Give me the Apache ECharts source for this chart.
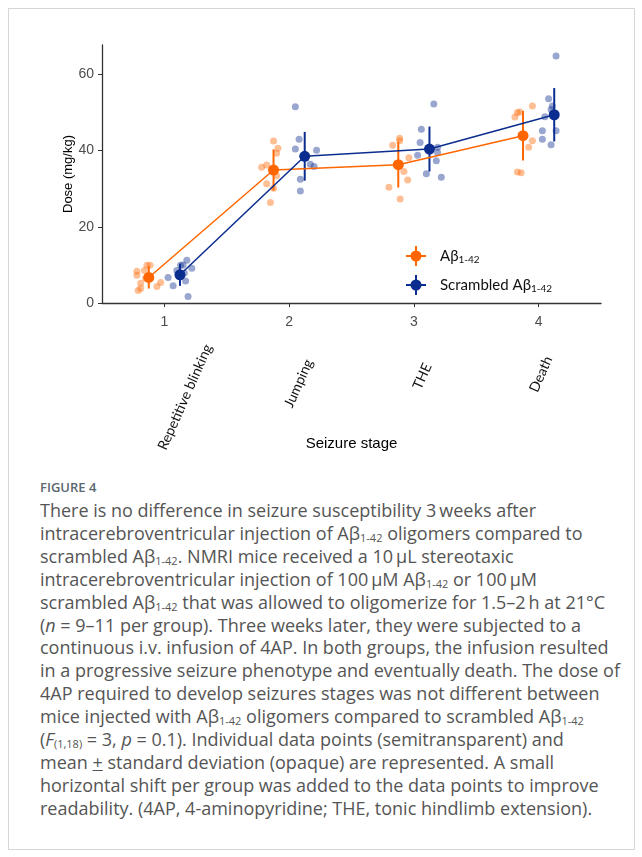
<!DOCTYPE html>
<html>
<head>
<meta charset="utf-8">
<script src="https://cdn.jsdelivr.net/npm/echarts@6/dist/echarts.min.js"></script>
<style>
    body { margin: 0; background: #fff; }
    #frame { position: absolute; left: 8px; top: 8px; width: 625px; height: 840px; border: 1px solid #d6d6d6; }
    #main { position: absolute; left: 0; top: 0; width: 642px; height: 470px; }
    #cap { position: absolute; left: 40px; top: 478px; width: 595px; white-space: nowrap; }
    .fig { font-family: 'Open Sans', sans-serif; font-size: 13px; font-weight: 600; color: #5a6670; line-height: 18px; }
    .txt { font-family: 'Open Sans', sans-serif; font-size: 18px; color: #555; line-height: 22.9px; margin-top: 3px; }
    .txt sub { font-size: 11px; vertical-align: -2px; line-height: 0; }
</style>
</head>
<body>
<div id="frame"></div>
<div id="main"></div>
<div id="cap">
    <div class="fig">FIGURE 4</div>
    <div class="txt">There is no difference in seizure susceptibility 3&#8201;weeks after<br>
intracerebroventricular injection of Aβ<sub>1-42</sub> oligomers compared to<br>
scrambled Aβ<sub>1-42</sub>. NMRI mice received a 10&#8201;μL stereotaxic<br>
intracerebroventricular injection of 100&#8201;μM Aβ<sub>1-42</sub> or 100&#8201;μM<br>
scrambled Aβ<sub>1-42</sub> that was allowed to oligomerize for 1.5–2&#8201;h at 21°C<br>
(<i>n</i> = 9–11 per group). Three weeks later, they were subjected to a<br>
continuous i.v. infusion of 4AP. In both groups, the infusion resulted<br>
in a progressive seizure phenotype and eventually death. The dose of<br>
4AP required to develop seizures stages was not different between<br>
mice injected with Aβ<sub>1-42</sub> oligomers compared to scrambled Aβ<sub>1-42</sub><br>
(<i>F</i><sub>(1,18)</sub> = 3, <i>p</i> = 0.1). Individual data points (semitransparent) and<br>
mean <u>+</u> standard deviation (opaque) are represented. A small<br>
horizontal shift per group was added to the data points to improve<br>
readability. (4AP, 4-aminopyridine; THE, tonic hindlimb extension).</div>
</div>
<script>
// seizure stages
var stages = [1, 2, 3, 4];
var stageNames = ['Repetitive blinking', 'Jumping', 'THE', 'Death'];
var yTicks = [0, 20, 40, 60];

// group means and sd (mg/kg)
var abMean = [6.7, 34.9, 36.3, 43.9];
var abSd = [2.9, 5.4, 6.0, 6.5];
var scrMean = [7.4, 38.5, 40.4, 49.4];
var scrSd = [2.9, 6.4, 5.9, 7.0];

// individual animals [jittered stage, dose]
var abPoints = [
    [0.86, 9.9], [0.885, 9.9], [0.84, 8.5], [0.78, 8.3], [0.78, 7.3], [0.85, 6.5],
    [0.81, 5.2], [0.97, 5.4], [0.94, 4.3], [0.81, 3.8], [0.79, 3.3],
    [1.875, 42.5], [1.91, 40.6], [1.90, 39.3], [1.78, 35.6], [1.82, 36.2], [1.90, 33.4],
    [1.82, 31.3], [1.875, 30.1], [1.85, 26.4],
    [2.886, 43.2], [2.886, 42.6], [2.83, 41.4], [2.96, 38.1], [2.92, 34.5], [2.95, 32.3],
    [2.80, 30.4], [2.89, 27.3],
    [3.81, 48.8], [3.83, 50.0], [3.85, 50.1], [3.95, 51.7], [3.95, 42.6], [3.92, 40.9],
    [3.83, 34.4], [3.86, 34.2]
];
var scrPoints = [
    [1.03, 6.7], [1.07, 4.5], [1.10, 8.5], [1.15, 10.0], [1.18, 11.2], [1.22, 9.1],
    [1.17, 5.8], [1.19, 1.7], [1.13, 9.9], [1.16, 7.9],
    [2.05, 51.5], [2.08, 43.0], [2.05, 40.4], [2.22, 40.1], [2.17, 36.4], [2.20, 35.8],
    [2.09, 32.5], [2.09, 29.4],
    [3.16, 52.2], [3.06, 45.6], [3.05, 42.1], [3.19, 40.9], [3.19, 39.5], [3.03, 38.8],
    [3.18, 37.3], [3.10, 33.9], [3.22, 33.0],
    [4.14, 64.8], [4.08, 53.6], [4.11, 51.7], [4.10, 50.8], [4.05, 48.9], [4.14, 45.2],
    [4.03, 45.2], [4.03, 43.0], [4.10, 41.5]
];

var orange = '#ff6600';
var blue = '#0b2d8f';
var shift = 0.125;
var crossIcon = 'path://M0,9H20V11H0Z M9,0H11V20H9Z M4.5,10A5.5,5.5 0 1,1 15.5,10A5.5,5.5 0 1,1 4.5,10Z';

function meanData(means, dx) {
    return means.map(function (m, i) { return [stages[i] + dx, m]; });
}
function barData(means, sds, dx) {
    return means.map(function (m, i) { return [stages[i] + dx, m - sds[i], m + sds[i]]; });
}
function errBar(color) {
    return function (params, api) {
        var lo = api.coord([api.value(0), api.value(1)]);
        var hi = api.coord([api.value(0), api.value(2)]);
        return {
            type: 'line',
            shape: { x1: lo[0], y1: lo[1], x2: hi[0], y2: hi[1] },
            style: { stroke: color, lineWidth: 2 }
        };
    };
}

var myChart = echarts.init(document.getElementById('main'));
var option = {
    animation: false,
    grid: { left: 102, right: 41, top: 45, bottom: 167 },
    legend: {
        orient: 'vertical',
        left: 401,
        top: 241,
        itemWidth: 30,
        itemHeight: 20,
        itemGap: 9,
        data: [{ name: 'Abeta', icon: crossIcon }, { name: 'Scrambled', icon: crossIcon }],
        formatter: function (name) {
            return name === 'Abeta' ? '{a|Aβ}{s|1-42}' : '{a|Scrambled Aβ}{s|1-42}';
        },
        textStyle: {
            rich: {
                a: { fontFamily: 'Lato', fontSize: 15, color: '#111', padding: [0, 0, 0, 4] },
                s: { fontFamily: 'Lato', fontSize: 10, color: '#111', padding: [7, 0, 0, 0] }
            }
        }
    },
    xAxis: {
        type: 'value',
        min: 0.5,
        max: 4.5,
        name: 'Seizure stage',
        nameLocation: 'middle',
        nameGap: 133,
        nameTextStyle: { fontFamily: 'Liberation Sans', fontSize: 15, color: '#000' },
        splitLine: { show: false },
        axisLine: { lineStyle: { color: '#333', width: 1.3 } },
        axisTick: { length: 4, customValues: stages, lineStyle: { color: '#333' } },
        axisLabel: { customValues: stages, margin: 12, fontFamily: 'Liberation Sans', fontSize: 14, color: '#4d4d4d' }
    },
    yAxis: {
        type: 'value',
        min: 0,
        max: 67.7,
        name: 'Dose (mg/kg)',
        nameLocation: 'middle',
        nameGap: 27,
        nameMoveOverlap: false,
        nameTextStyle: { fontFamily: 'Liberation Sans', fontSize: 13, color: '#000' },
        splitLine: { show: false },
        axisLine: { show: true, lineStyle: { color: '#333', width: 1.3 } },
        axisTick: { show: true, length: 4, customValues: yTicks, lineStyle: { color: '#333' } },
        axisLabel: { customValues: yTicks, margin: 8, fontFamily: 'Liberation Sans', fontSize: 14, color: '#4d4d4d' }
    },
    series: [
        {
            type: 'scatter', data: abPoints, symbolSize: 7, z: 1, silent: true,
            itemStyle: { color: orange, opacity: 0.42 }
        },
        {
            type: 'scatter', data: scrPoints, symbolSize: 7, z: 1, silent: true,
            itemStyle: { color: blue, opacity: 0.42 }
        },
        {
            type: 'custom', data: barData(abMean, abSd, -shift), z: 2, silent: true,
            renderItem: errBar(orange)
        },
        {
            type: 'custom', data: barData(scrMean, scrSd, shift), z: 2, silent: true,
            renderItem: errBar(blue)
        },
        {
            name: 'Abeta', type: 'line', data: meanData(abMean, -shift), z: 3,
            symbol: 'circle', symbolSize: 11, showSymbol: true,
            itemStyle: { color: orange }, lineStyle: { color: orange, width: 1.5 }
        },
        {
            name: 'Scrambled', type: 'line', data: meanData(scrMean, shift), z: 3,
            symbol: 'circle', symbolSize: 11, showSymbol: true,
            itemStyle: { color: blue }, lineStyle: { color: blue, width: 1.5 }
        }
    ]
};
myChart.setOption(option);

// slanted stage names under the numeric ticks
var labelDx = [44, 20, 14, 10];
var labelDy = [42, 57, 61, 54];
var labels = stageNames.map(function (txt, i) {
    var p = myChart.convertToPixel({ xAxisIndex: 0, yAxisIndex: 0 }, [stages[i], 0]);
    return {
        type: 'text',
        x: p[0] + labelDx[i],
        y: p[1] + labelDy[i],
        rotation: 66 * Math.PI / 180,
        style: {
            text: txt, fontFamily: 'Lato', fontSize: 14, fill: '#111',
            align: 'right', verticalAlign: 'middle'
        }
    };
});
myChart.setOption({ graphic: labels });
</script>
</body>
</html>
